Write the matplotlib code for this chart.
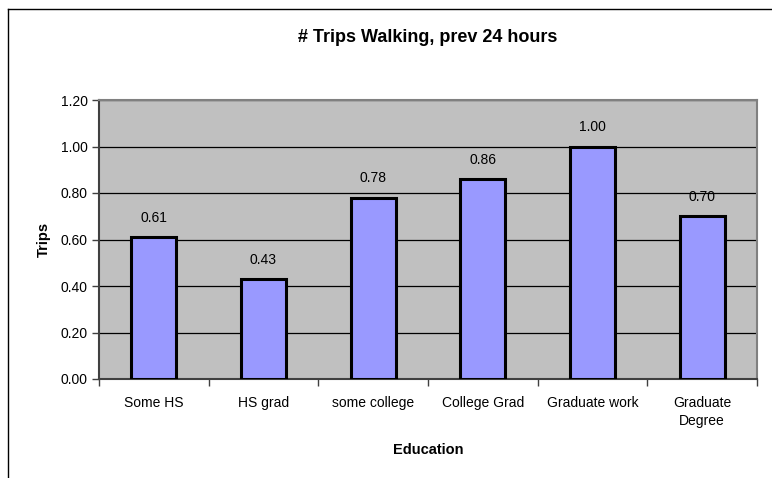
import matplotlib.pyplot as plt
from matplotlib.lines import Line2D

plt.rcParams['font.family'] = ['Liberation Sans', 'DejaVu Sans']

# data
categories = ["Some HS", "HS grad", "some college", "College Grad", "Graduate work", "Graduate\nDegree"]
trips = [0.61, 0.43, 0.78, 0.86, 1.00, 0.70]
yticks = [0.0, 0.2, 0.4, 0.6, 0.8, 1.0, 1.2]

W, H = 772, 478
fig = plt.figure(figsize=(W / 100, H / 100), dpi=100)
fig.patch.set_facecolor("white")

# outer chart frame (left + top visible, rest cut off)
fig.add_artist(Line2D([7.5 / W, 7.5 / W], [0, 1 - 8.5 / H], transform=fig.transFigure, color="black", lw=1.0))
fig.add_artist(Line2D([7.5 / W, 1], [1 - 8.5 / H, 1 - 8.5 / H], transform=fig.transFigure, color="black", lw=1.0))

ax = fig.add_axes([99 / W, 1 - 379 / H, (757 - 99) / W, (379 - 100) / H])
ax.set_facecolor("#C0C0C0")

x = list(range(len(categories)))
ax.bar(x, trips, width=0.41, color="#9999FF", edgecolor="black", linewidth=2.2, zorder=3)

for xi, v in zip(x, trips):
    ax.annotate("%.2f" % v, (xi, v), xytext=(0, 9), textcoords="offset points",
                ha="center", va="bottom", fontsize=10)

ax.set_xlim(-0.5, len(categories) - 0.5)
ax.set_ylim(0, 1.2)
ax.set_yticks(yticks)
ax.set_yticklabels(["%.2f" % t for t in yticks], fontsize=10)
ax.yaxis.grid(True, color="black", linewidth=0.9)
ax.set_axisbelow(True)

# category labels centred, tick marks on boundaries
ax.set_xticks(x)
ax.set_xticklabels(categories, fontsize=10, linespacing=1.35)
ax.tick_params(axis="x", length=0, pad=12)
ax.set_xticks([i - 0.5 for i in range(len(categories) + 1)], minor=True)
ax.tick_params(axis="x", which="minor", length=5, width=1.0, color="#404040", direction="out")
ax.tick_params(axis="y", length=5, width=1.0, color="#404040", direction="out", pad=3)

for side in ["left", "bottom"]:
    ax.spines[side].set_color("#404040")
    ax.spines[side].set_linewidth(1.5)
for side in ["top", "right"]:
    ax.spines[side].set_color("#808080")
    ax.spines[side].set_linewidth(1.5)

ax.set_ylabel("Trips", fontsize=10.5, fontweight="bold", labelpad=7)
ax.set_xlabel("Education", fontsize=10.5, fontweight="bold", labelpad=11)

fig.text(0.5 * (99 + 757) / W, 1 - 37 / H, "# Trips Walking, prev 24 hours",
         ha="center", va="center", fontsize=13, fontweight="bold")

fig.savefig("out.png", dpi=100)
